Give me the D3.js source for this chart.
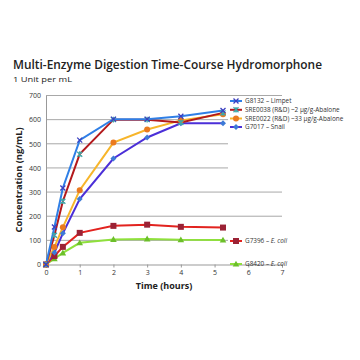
<!DOCTYPE html>
<html><head><meta charset="utf-8">
<script src="https://cdn.jsdelivr.net/npm/d3@7"></script>
<style>body{margin:0;background:#fff}svg{display:block}text{font-family:"Open Sans",sans-serif}</style>
</head><body>
<svg id="c" width="360" height="360"></svg>
<script>
const times = [0, 0.25, 0.5, 1, 2, 3, 4, 5.25];
const seriesNames = ["G8132 – Limpet", "SRE0038 (R&D) ~2 μg/g-Abalone", "SRE0022 (R&D) ~33 μg/g-Abalone", "G7017 – Snail", "G7396 – ", "G8420 – "];
const limpet   = [0, 155, 317, 515, 602, 602, 614, 638];
const abal2    = [0, 121, 262, 457, 600, 600, 588, 628];
const abal33   = [0, 73, 154, 308, 505, 559, 597, 622];
const snail    = [0, 50, 129, 271, 439, 526, 585, 585];
const ecoli1   = [0, 35, 73, 131, 160, 165, 156, 153];
const ecoli2   = [0, 24, 48, 90, 104, 106, 102, 101];
const yTicks = [0,100,200,300,400,500,600,700];
const xTicks = [0,1,2,3,4,5,6,7];

const svg = d3.select("#c");
const x = d3.scaleLinear().domain([0,7]).range([46,282]);
const y = d3.scaleLinear().domain([0,700]).range([264.5,95.5]);

// title
svg.append("text").attr("x",13).attr("y",69).attr("font-size",12.4).attr("font-weight",600).attr("fill","#222")
  .attr("textLength",309).attr("lengthAdjust","spacingAndGlyphs")
  .text("Multi-Enzyme Digestion Time-Course Hydromorphone");
svg.append("text").attr("x",13).attr("y",82).attr("font-size",7.6).attr("fill","#222")
  .attr("textLength",59).attr("lengthAdjust","spacingAndGlyphs").text("1 Unit per mL");

// gridlines
svg.append("g").selectAll("line").data(yTicks.filter(d=>d>0)).join("line")
  .attr("x1",x(0)).attr("x2",x(7)).attr("y1",d=>y(d)).attr("y2",d=>y(d))
  .attr("stroke","#a8a8a8").attr("stroke-width",1);

// axes
const yAxis = svg.append("g").attr("transform",`translate(${x(0)},0)`)
  .call(d3.axisLeft(y).tickValues(yTicks).tickSize(0).tickPadding(5).tickFormat(d3.format("d")));
yAxis.select(".domain").attr("stroke","#999");
yAxis.selectAll("text").attr("font-size",7).attr("fill","#333").attr("font-family","Open Sans, sans-serif");
const xAxis = svg.append("g").attr("transform",`translate(0,${y(0)})`)
  .call(d3.axisBottom(x).tickValues(xTicks).tickSize(3).tickPadding(3).tickFormat(d3.format("d")));
xAxis.select(".domain").attr("stroke","#999");
xAxis.selectAll("line").attr("stroke","#999");
xAxis.selectAll("text").attr("font-size",7).attr("fill","#333").attr("font-family","Open Sans, sans-serif");

svg.append("text").attr("x",164).attr("y",289).attr("text-anchor","middle").attr("font-size",9).attr("font-weight",700).attr("fill","#222").text("Time (hours)");
svg.append("text").attr("transform","translate(22,180) rotate(-90)").attr("text-anchor","middle").attr("font-size",9.3).attr("font-weight",700).attr("fill","#222").text("Concentration (ng/mL)");

const series = [
  {name:seriesNames[5], vals:ecoli2, line:"#8fe03c", mk:"#6cbf2a", shape:"tri"},
  {name:seriesNames[4], vals:ecoli1, line:"#e2231f", mk:"#9b2235", shape:"sq"},
  {name:seriesNames[3], vals:snail, line:"#4b2fd8", mk:"#3d7ad6", shape:"dia"},
  {name:seriesNames[2], vals:abal33, line:"#f7b52a", mk:"#ea7a1f", shape:"circ"},
  {name:seriesNames[1], vals:abal2, line:"#b3191c", mk:"#3fa7a8", shape:"star"},
  {name:seriesNames[0], vals:limpet, line:"#2f7fe6", mk:"#3b3fc0", shape:"x"}
];

const lineGen = d3.line().x((d,i)=>x(times[i])).y(d=>y(d));

function marker(g, shape, color, cx, cy){
  if(shape==="x"){
    g.append("path").attr("d",`M${cx-2.5},${cy-2.5}L${cx+2.5},${cy+2.5}M${cx-2.5},${cy+2.5}L${cx+2.5},${cy-2.5}`).attr("stroke",color).attr("stroke-width",1.3).attr("fill","none");
  } else if(shape==="star"){
    g.append("path").attr("d",`M${cx-2.5},${cy-2.5}L${cx+2.5},${cy+2.5}M${cx-2.5},${cy+2.5}L${cx+2.5},${cy-2.5}M${cx},${cy-2.8}L${cx},${cy+2.8}`).attr("stroke",color).attr("stroke-width",1.3).attr("fill","none");
  } else if(shape==="circ"){
    g.append("circle").attr("cx",cx).attr("cy",cy).attr("r",3).attr("fill",color);
  } else if(shape==="sq"){
    g.append("rect").attr("x",cx-3).attr("y",cy-3).attr("width",6).attr("height",6).attr("fill",color);
  } else if(shape==="tri"){
    g.append("path").attr("d",`M${cx},${cy-3.3}L${cx+3.3},${cy+2.5}L${cx-3.3},${cy+2.5}Z`).attr("fill",color);
  } else if(shape==="dia"){
    g.append("path").attr("d",`M${cx},${cy-3}L${cx+3},${cy}L${cx},${cy+3}L${cx-3},${cy}Z`).attr("fill",color);
  }
}

series.forEach(s=>{
  svg.append("path").datum(s.vals).attr("d",lineGen).attr("fill","none").attr("stroke",s.line).attr("stroke-width",2);
});
series.forEach(s=>{
  const g = svg.append("g");
  s.vals.forEach((v,i)=>marker(g,s.shape,s.mk,x(times[i]),y(v)));
});

// top legend
svg.append("rect").attr("x",228).attr("y",96).attr("width",132).attr("height",74).attr("fill","#fff");
const topLeg = [series[5],series[4],series[3],series[2]];
const topY = [101,109.8,118.5,127];
topLeg.forEach((s,i)=>{
  const g = svg.append("g");
  g.append("line").attr("x1",230).attr("x2",242).attr("y1",topY[i]).attr("y2",topY[i]).attr("stroke",s.line).attr("stroke-width",2);
  marker(g,s.shape,s.mk,236,topY[i]);
  g.append("text").attr("x",245).attr("y",topY[i]+2.2).attr("font-size",6.4).attr("fill","#333").text(s.name);
});
// bottom legend
svg.append("rect").attr("x",228).attr("y",234).attr("width",132).attr("height",12).attr("fill","#fff");
svg.append("rect").attr("x",284).attr("y",258).attr("width",76).attr("height",12).attr("fill","#fff");
const botLeg = [series[1],series[0]];
const botY = [241,264];
botLeg.forEach((s,i)=>{
  const g = svg.append("g");
  g.append("line").attr("x1",230).attr("x2",242).attr("y1",botY[i]).attr("y2",botY[i]).attr("stroke",s.line).attr("stroke-width",2);
  marker(g,s.shape,s.mk,236,botY[i]);
  const t = g.append("text").attr("x",245).attr("y",botY[i]+2.2).attr("font-size",6.4).attr("fill","#333").text(s.name);
  t.append("tspan").attr("font-style","italic").text("E. coli");
});
</script>
</body></html>
